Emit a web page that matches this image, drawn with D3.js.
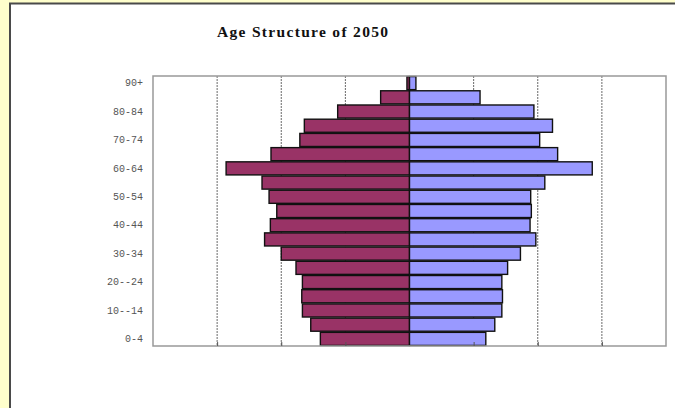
<!DOCTYPE html>
<html>
<head>
<meta charset="utf-8">
<script src="https://cdn.jsdelivr.net/npm/d3@7"></script>
<style>
  body { margin: 0; background: #ffffcc; }
</style>
</head>
<body>
<div id="chart"></div>
<script>
(function() {

    var width = 675;
    var height = 408;

    // age groups, bottom to top
    var ages = ["0-4", "5-9", "10--14", "15-19", "20--24", "25-29", "30-34", "35-39", "40-44",
        "45-49", "50-54", "55-59", "60-64", "65-69", "70-74", "75-79", "80-84", "85-89", "90+"];
    var male = [1.39, 1.54, 1.67, 1.68, 1.67, 1.77, 2.00, 2.26, 2.17, 2.07, 2.19, 2.30, 2.86,
        2.16, 1.71, 1.64, 1.12, 0.45, 0.04];
    var female = [1.19, 1.33, 1.44, 1.45, 1.44, 1.53, 1.73, 1.97, 1.88, 1.90, 1.89, 2.11, 2.85,
        2.31, 2.03, 2.23, 1.94, 1.10, 0.10];
    var gridTicks = [-3, -2, -1, 1, 2, 3];

    var plot = { left: 153, right: 666, top: 76, bottom: 346 };

    var svg = d3.select("#chart")
        .append("svg")
        .attr("width", width)
        .attr("height", height);

    // yellow frame + white sheet
    svg.append("rect")
        .attr("width", width).attr("height", height)
        .attr("fill", "#ffffcc");
    svg.append("rect")
        .attr("x", 10).attr("y", 3.5)
        .attr("width", width + 20).attr("height", height + 20)
        .attr("fill", "#fff")
        .attr("stroke", "#4a4a4a")
        .attr("stroke-width", 2);

    svg.append("text")
        .attr("x", 217)
        .attr("y", 37)
        .attr("textLength", 171)
        .attr("lengthAdjust", "spacing")
        .attr("font-family", "Liberation Serif, serif")
        .attr("font-weight", "bold")
        .attr("font-size", 15.5)
        .attr("fill", "#111")
        .text("Age Structure of 2050");

    var x = d3.scaleLinear().domain([-4, 4]).range([plot.left, plot.right]);
    var y = d3.scaleBand().domain(ages.slice().reverse())
        .range([plot.top, plot.bottom])
        .paddingInner(0.08).paddingOuter(0.04);

    // dashed gridlines
    svg.append("g")
        .selectAll("line")
        .data(gridTicks)
        .enter().append("line")
        .attr("x1", d => x(d)).attr("x2", d => x(d))
        .attr("y1", plot.top).attr("y2", plot.bottom)
        .attr("stroke", "#444")
        .attr("stroke-width", 0.8)
        .attr("stroke-dasharray", "2,1");

    var rows = ages.map(function(a, i) {
        return { age: a, m: male[i], f: female[i] };
    });

    var bars = svg.append("g");
    bars.selectAll(".male")
        .data(rows)
        .enter().append("rect")
        .attr("class", "male")
        .attr("x", d => x(-d.m))
        .attr("width", d => x(0) - x(-d.m))
        .attr("y", d => y(d.age))
        .attr("height", y.bandwidth())
        .attr("fill", "#993366")
        .attr("stroke", "#111")
        .attr("stroke-width", 1.4);

    bars.selectAll(".female")
        .data(rows)
        .enter().append("rect")
        .attr("class", "female")
        .attr("x", x(0))
        .attr("width", d => x(d.f) - x(0))
        .attr("y", d => y(d.age))
        .attr("height", y.bandwidth())
        .attr("fill", "#9999ff")
        .attr("stroke", "#111")
        .attr("stroke-width", 1.4);

    // plot border
    svg.append("rect")
        .attr("x", plot.left).attr("y", plot.top)
        .attr("width", plot.right - plot.left)
        .attr("height", plot.bottom - plot.top)
        .attr("fill", "none")
        .attr("stroke", "#999")
        .attr("stroke-width", 1.5);

    // bottom axis, ticks pointing inward
    var xAxis = svg.append("g")
        .attr("transform", "translate(0," + plot.bottom + ")")
        .call(d3.axisBottom(x).tickValues(gridTicks).tickSize(-4).tickFormat(""));
    xAxis.select(".domain").remove();
    xAxis.selectAll("line").attr("stroke", "#555");

    // left axis, every other label
    var yAxis = svg.append("g")
        .attr("transform", "translate(" + (plot.left - 10) + ",0)")
        .call(d3.axisLeft(y).tickValues(ages.filter((d, i) => i % 2 === 0)).tickSize(0).tickPadding(0));
    yAxis.select(".domain").remove();
    yAxis.selectAll("text")
        .attr("font-family", "Liberation Mono, monospace")
        .attr("font-size", 10)
        .attr("fill", "#555");

})();
</script>
</body>
</html>
